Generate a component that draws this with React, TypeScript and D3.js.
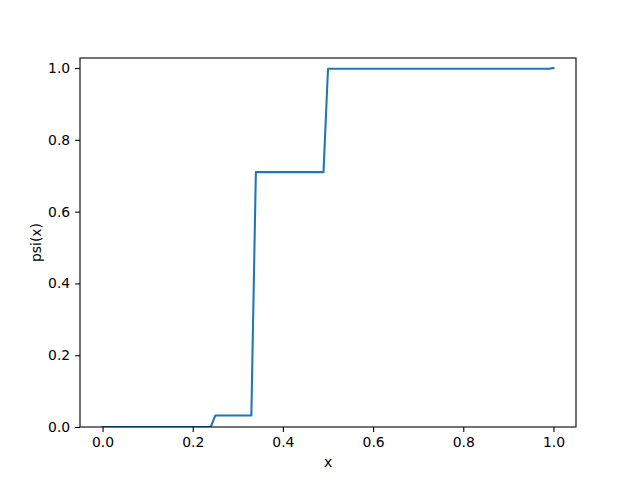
import React, { useEffect, useRef } from "react";
import * as d3 from "d3";

// breakpoints of the step curve
const xValues = [0, 0.24, 0.25, 0.33, 0.34, 0.49, 0.5, 0.99, 1.0];
const psiValues = [0, 0, 0.032, 0.032, 0.71, 0.71, 0.998, 0.998, 1.0];
const xTicks = [0, 0.2, 0.4, 0.6, 0.8, 1.0];
const yTicks = [0, 0.2, 0.4, 0.6, 0.8, 1.0];

export default function App() {
  const svgRef = useRef<SVGSVGElement>(null);

  useEffect(() => {
    const svg = d3.select(svgRef.current);
    svg.selectAll("*").remove();

    const width = 640;
    const height = 480;
    const margin = { top: 58, right: 64, bottom: 53, left: 80 };
    const font = "DejaVu Sans, sans-serif";

    const x = d3
      .scaleLinear()
      .domain([-0.05, 1.05])
      .range([margin.left, width - margin.right]);
    const y = d3
      .scaleLinear()
      .domain([0, 1.028])
      .range([height - margin.bottom, margin.top]);

    svg.append("rect").attr("width", width).attr("height", height).attr("fill", "white");

    const data = xValues.map((v, i) => [v, psiValues[i]] as [number, number]);

    // clip to axes area
    svg
      .append("clipPath")
      .attr("id", "plot-clip")
      .append("rect")
      .attr("x", margin.left)
      .attr("y", margin.top)
      .attr("width", width - margin.left - margin.right)
      .attr("height", height - margin.top - margin.bottom);

    const line = d3
      .line<[number, number]>()
      .x((d) => x(d[0]))
      .y((d) => y(d[1]));

    svg
      .append("path")
      .datum(data)
      .attr("clip-path", "url(#plot-clip)")
      .attr("fill", "none")
      .attr("stroke", "#1f77b4")
      .attr("stroke-width", 2.08)
      .attr("stroke-linejoin", "round")
      .attr("stroke-linecap", "square")
      .attr("d", line);

    // x axis
    const xAxis = svg
      .append("g")
      .attr("transform", `translate(0,${height - margin.bottom})`)
      .call(
        d3
          .axisBottom(x)
          .tickValues(xTicks)
          .tickFormat(d3.format(".1f"))
          .tickSize(4.9)
          .tickPadding(4.9)
      );
    xAxis.select(".domain").remove();
    xAxis.selectAll("line").attr("stroke", "black").attr("stroke-width", 1.1);
    xAxis.selectAll("text").attr("font-family", font).attr("font-size", 13.9).attr("fill", "black");

    // y axis
    const yAxis = svg
      .append("g")
      .attr("transform", `translate(${margin.left},0)`)
      .call(
        d3
          .axisLeft(y)
          .tickValues(yTicks)
          .tickFormat(d3.format(".1f"))
          .tickSize(4.9)
          .tickPadding(4.9)
      );
    yAxis.select(".domain").remove();
    yAxis.selectAll("line").attr("stroke", "black").attr("stroke-width", 1.1);
    yAxis.selectAll("text").attr("font-family", font).attr("font-size", 13.9).attr("fill", "black");

    // spines
    svg
      .append("rect")
      .attr("x", margin.left)
      .attr("y", margin.top)
      .attr("width", width - margin.left - margin.right)
      .attr("height", height - margin.top - margin.bottom)
      .attr("fill", "none")
      .attr("stroke", "black")
      .attr("stroke-width", 1.1);

    // axis labels
    svg
      .append("text")
      .attr("x", (margin.left + width - margin.right) / 2)
      .attr("y", 467)
      .attr("text-anchor", "middle")
      .attr("font-family", font)
      .attr("font-size", 13.9)
      .text("x");

    svg
      .append("text")
      .attr("transform", `translate(41,${(margin.top + height - margin.bottom) / 2}) rotate(-90)`)
      .attr("text-anchor", "middle")
      .attr("font-family", font)
      .attr("font-size", 13.9)
      .text("psi(x)");
  }, []);

  return (
    <svg
      ref={svgRef}
      width={640}
      height={480}
      style={{ position: "absolute", left: 0, top: 0 }}
    ></svg>
  );
}
